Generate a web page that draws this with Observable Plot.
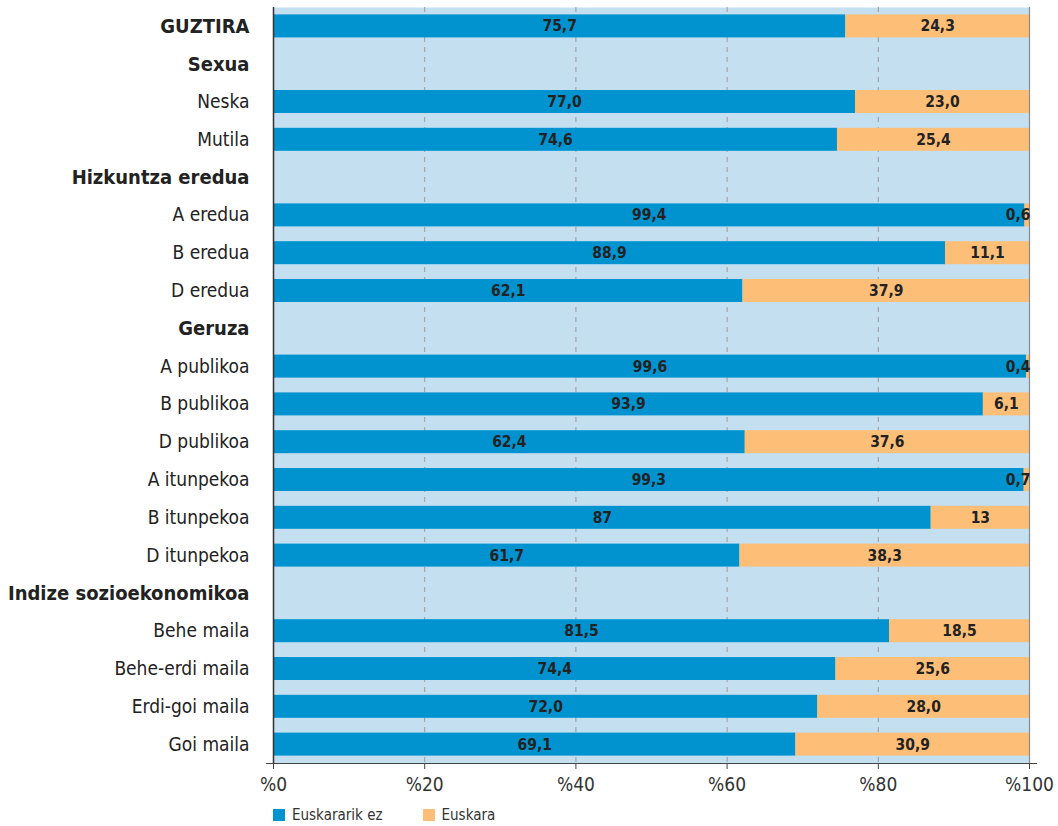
<!DOCTYPE html>
<html>
<head>
<meta charset="utf-8">
<script src="https://cdn.jsdelivr.net/npm/d3@7"></script>
<script src="https://cdn.jsdelivr.net/npm/@observablehq/plot@0.6"></script>
<style>
  body { margin: 0; background: #fff; font-family: "DejaVu Sans Condensed", "Liberation Sans Narrow", sans-serif; }
  #legend { display: flex; align-items: center; margin-left: 273px; margin-top: 4px; height: 22px; font-size: 15px; color: #333; }
  #legend .sw { width: 12px; height: 12px; display: inline-block; margin-right: 7px; }
  #legend .item { display: flex; align-items: center; margin-right: 40px; }
</style>
</head>
<body>
<div id="chart"></div>
<div id="legend"></div>
<script>
const categories = ["GUZTIRA","Sexua","Neska","Mutila","Hizkuntza eredua","A eredua","B eredua","D eredua","Geruza","A publikoa","B publikoa","D publikoa","A itunpekoa","B itunpekoa","D itunpekoa","Indize sozioekonomikoa","Behe maila","Behe-erdi maila","Erdi-goi maila","Goi maila"];
const boldCategories = ["GUZTIRA","Sexua","Hizkuntza eredua","Geruza","Indize sozioekonomikoa"];
const euskararikEz = [75.7,null,77.0,74.6,null,99.4,88.9,62.1,null,99.6,93.9,62.4,99.3,87,61.7,null,81.5,74.4,72.0,69.1];
const euskara      = [24.3,null,23.0,25.4,null,0.6,11.1,37.9,null,0.4,6.1,37.6,0.7,13,38.3,null,18.5,25.6,28.0,30.9];
const ezLabels = ["75,7",null,"77,0","74,6",null,"99,4","88,9","62,1",null,"99,6","93,9","62,4","99,3","87","61,7",null,"81,5","74,4","72,0","69,1"];
const euLabels = ["24,3",null,"23,0","25,4",null,"0,6","11,1","37,9",null,"0,4","6,1","37,6","0,7","13","38,3",null,"18,5","25,6","28,0","30,9"];
const seriesNames = ["Euskararik ez","Euskara"];
const seriesColors = ["#0093d0","#fdbf78"];
const xTicks = [0,20,40,60,80,100];

const rows = categories.map((c,i) => ({cat: c, ez: euskararikEz[i], eu: euskara[i], ezL: ezLabels[i], euL: euLabels[i]}));
const dataRows = rows.filter(d => d.ez != null);
const smallEu = dataRows.filter(d => d.eu < 3);
const bigEu = dataRows.filter(d => d.eu >= 3);

const font = '"DejaVu Sans Condensed", "Liberation Sans Narrow", sans-serif';
const barInset = 7.4;

const chart = Plot.plot({
  width: 1058,
  height: 800,
  marginLeft: 273,
  marginRight: 29,
  marginTop: 7,
  marginBottom: 37,
  style: {fontFamily: font, background: "#fff"},
  x: {domain: [0,100], axis: null},
  y: {domain: categories, padding: 0, round: false, axis: null},
  marks: [
    Plot.frame({fill: "#c3dff0", stroke: null}),
    Plot.ruleX([20,40,60,80], {stroke: "#9a9a9a", strokeDasharray: "5,5", strokeWidth: 1}),
    Plot.barX(dataRows, {y: "cat", x1: 0, x2: "ez", fill: seriesColors[0], insetTop: barInset, insetBottom: barInset}),
    Plot.barX(dataRows, {y: "cat", x1: "ez", x2: 100, fill: seriesColors[1], insetTop: barInset, insetBottom: barInset}),
    Plot.ruleX([100], {stroke: "#8a8a8a", strokeWidth: 1.2}),
    Plot.ruleX([0], {stroke: "#333", strokeWidth: 1.5}),
    Plot.frame({anchor: "bottom", stroke: "#444", strokeWidth: 1.2, insetLeft: -7, insetRight: -7}),
    Plot.axisX({ticks: xTicks, tickFormat: d => "%" + d, label: null, tickSize: 6, tickPadding: 8, fontSize: 19, color: "#333", stroke: "#444"}),
    Plot.text(dataRows, {y: "cat", x: d => d.ez / 2, text: "ezL", fontSize: 15.5, fontWeight: "bold", fill: "#222"}),
    Plot.text(bigEu, {y: "cat", x: d => (d.ez + 100) / 2, text: "euL", fontSize: 15.5, fontWeight: "bold", fill: "#222"}),
    Plot.text(smallEu, {y: "cat", x: 100, text: "euL", textAnchor: "end", dx: 1, fontSize: 15.5, fontWeight: "bold", fill: "#222"}),
    Plot.text(categories.filter(c => !boldCategories.includes(c)), {y: d => d, x: 0, dx: -24, textAnchor: "end", fontSize: 19, fill: "#222"}),
    Plot.text(boldCategories, {y: d => d, x: 0, dx: -24, textAnchor: "end", fontSize: 20, fontWeight: "bold", fill: "#222"})
  ]
});
document.getElementById("chart").appendChild(chart);

const legend = document.getElementById("legend");
seriesNames.forEach((name, i) => {
  const item = document.createElement("span");
  item.className = "item";
  const sw = document.createElement("span");
  sw.className = "sw";
  sw.style.background = seriesColors[i];
  item.appendChild(sw);
  item.appendChild(document.createTextNode(name));
  legend.appendChild(item);
});
</script>
</body>
</html>
